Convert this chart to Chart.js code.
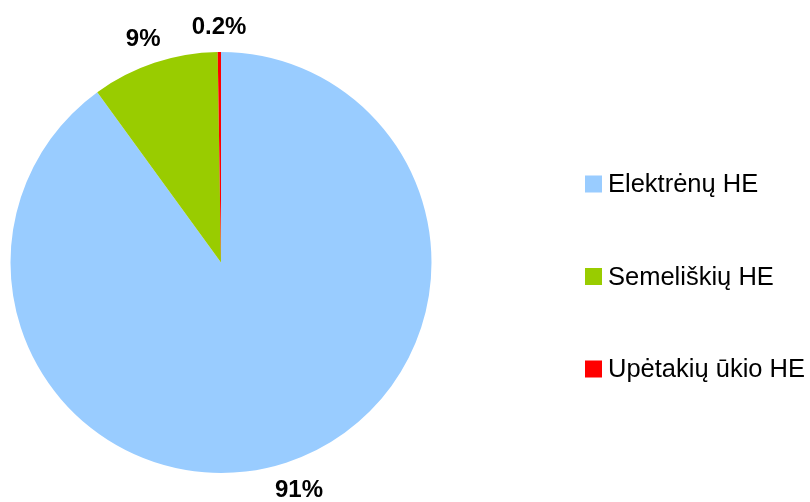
<!DOCTYPE html>
<html>
<head>
<meta charset="utf-8">
<script src="https://cdn.jsdelivr.net/npm/chart.js@4.4.0/dist/chart.umd.min.js"></script>
<style>
  html, body { margin: 0; padding: 0; background: #fff; }
  #wrap { width: 810px; height: 502px; }
</style>
</head>
<body>
<div id="wrap"><canvas id="pie"></canvas></div>
<script>
  // dados
  const categorias = ["Elektrėnų HE", "Semeliškių HE", "Upėtakių ūkio HE"];
  const valores = [90.0, 9.75, 0.25];
  const rotulos = ["91%", "9%", "0.2%"];
  const cores = ["#99CCFF", "#99CC00", "#FF0000"];

  // desenha as percentagens fora da pizza e a legenda à direita
  const rotulosPlugin = {
    id: "rotulos",
    afterDatasetsDraw(chart) {
      let ctx = chart.ctx;
      let arcos = chart.getDatasetMeta(0).data;
      ctx.save();
      ctx.font = "bold 24px 'Liberation Sans', Arial, sans-serif";
      ctx.fillStyle = "#000";
      ctx.textAlign = "center";
      ctx.textBaseline = "middle";
      for (let i = 0; i < arcos.length; i++) {
        let arco = arcos[i];
        let meio = (arco.startAngle + arco.endAngle) / 2;
        let ux = Math.cos(meio);
        let uy = Math.sin(meio);
        let r = arco.outerRadius + 18;
        let largura = ctx.measureText(rotulos[i]).width;
        // empurra a caixa do texto para fora da borda
        let x = arco.x + ux * r + ux * largura / 2;
        let y = arco.y + uy * r + uy * 9 + 2;
        ctx.fillText(rotulos[i], x, y);
      }

      // legenda
      ctx.font = "25.5px 'Liberation Sans', Arial, sans-serif";
      ctx.textAlign = "left";
      let y = 184;
      for (let i = 0; i < categorias.length; i++) {
        ctx.fillStyle = cores[i];
        ctx.fillRect(585, y - 8.5, 17, 17);
        ctx.fillStyle = "#000";
        ctx.fillText(categorias[i], 608, y + 1);
        y += 92.5;
      }
      ctx.restore();
    }
  };

  document.addEventListener("DOMContentLoaded", grafico);

  function grafico() {
    var ctx = document.getElementById("pie").getContext("2d");
    var meuGrafico = new Chart(ctx, {
      type: "pie",
      data: {
        labels: categorias,
        datasets: [
          {
            data: valores,
            backgroundColor: cores,
            borderWidth: 0,
          },
        ],
      },
      options: {
        responsive: true,
        maintainAspectRatio: false,
        devicePixelRatio: 1,
        animation: false,
        layout: {
          padding: { top: 52, bottom: 29, left: 0, right: 368 },
        },
        plugins: {
          legend: { display: false },
          tooltip: { enabled: false },
        },
      },
      plugins: [rotulosPlugin],
    });
  }
</script>
</body>
</html>
